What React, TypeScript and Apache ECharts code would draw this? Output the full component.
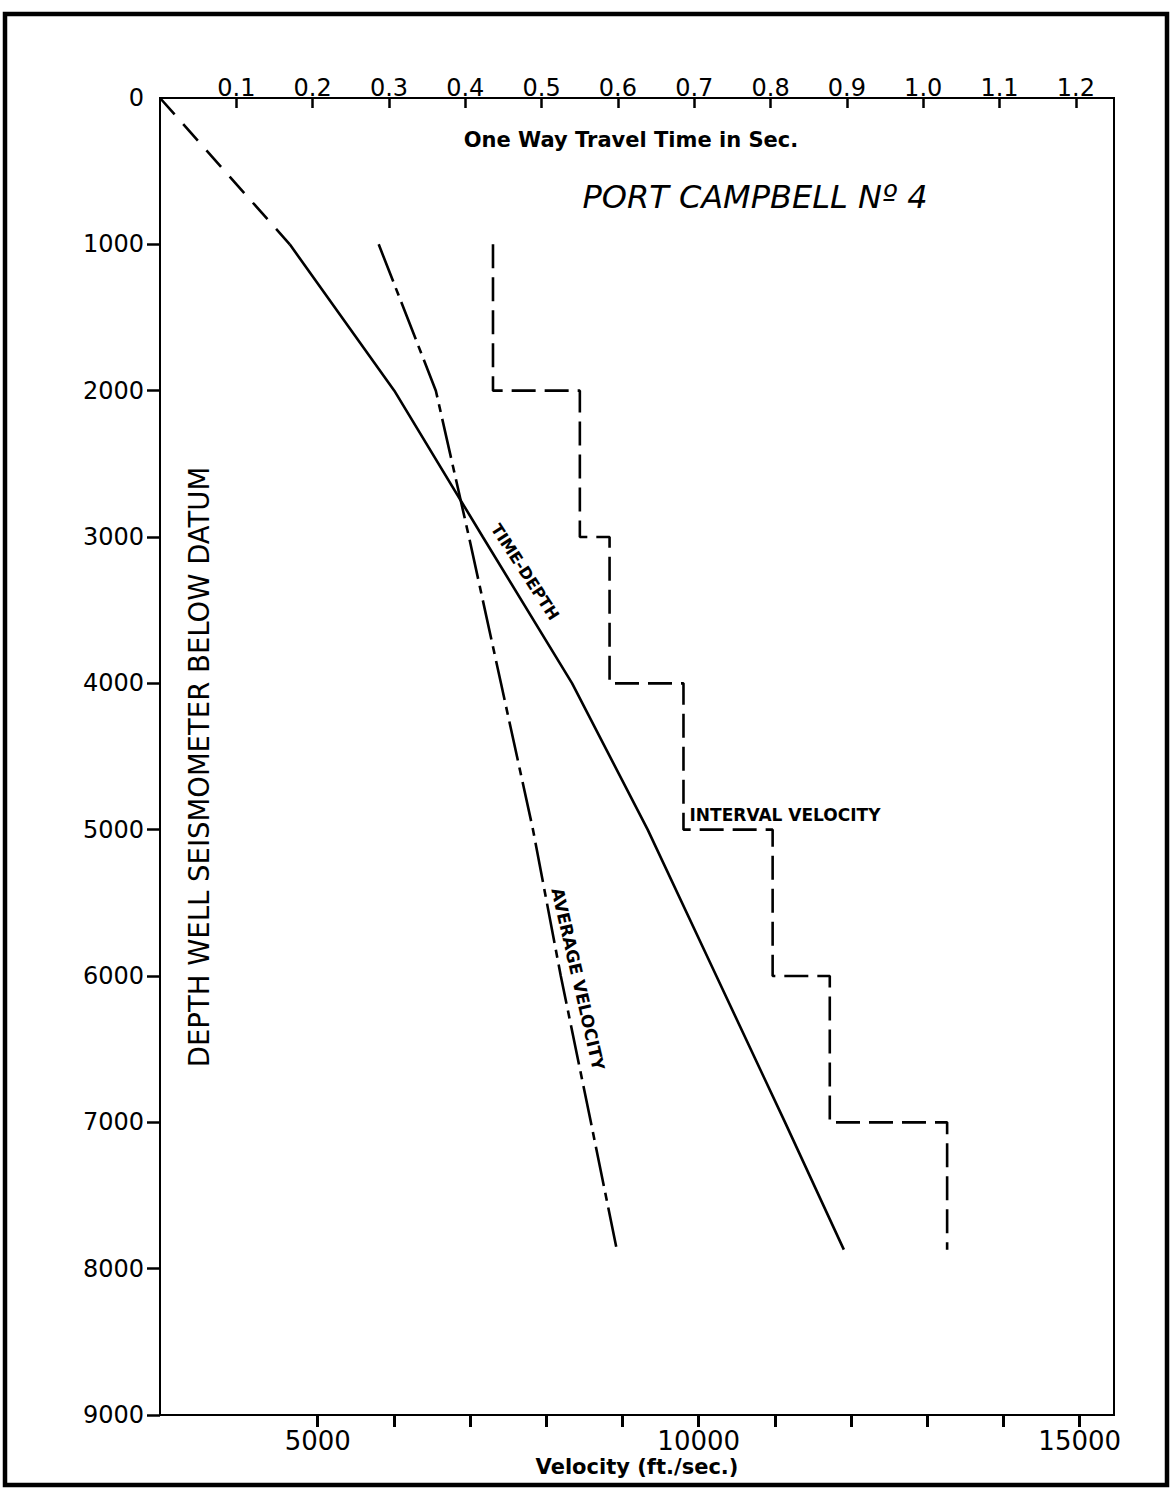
import React, { useEffect, useRef } from "react";
import * as echarts from "echarts";

// Axis ticks / labels
const depthTickValues = [1000, 2000, 3000, 4000, 5000, 6000, 7000, 8000, 9000];
const velocityTickValues = [5000, 6000, 7000, 8000, 9000, 10000, 11000, 12000, 13000, 14000, 15000];
const velocityLabelValues = [5000, 10000, 15000];
const timeTickValues = [0.1, 0.2, 0.3, 0.4, 0.5, 0.6, 0.7, 0.8, 0.9, 1.0, 1.1, 1.2];

// Time-depth curve (one way travel time in sec vs depth in ft)
const timeDepthDepths = [0, 1000, 2000, 3000, 4000, 5000, 6000, 7000, 7870];
const timeDepthTimes = [0, 0.17, 0.307, 0.423, 0.54, 0.639, 0.729, 0.819, 0.896];

// Average velocity (ft/sec) vs depth
const avgDepths = [1000, 2000, 3000, 4000, 5000, 6000, 7000, 7870];
const avgVelocities = [5800, 6550, 6985, 7405, 7825, 8190, 8585, 8925];

// Interval velocity (ft/sec) per depth interval
const intervalTops = [1000, 2000, 3000, 4000, 5000, 6000, 7000];
const intervalBottoms = [2000, 3000, 4000, 5000, 6000, 7000, 7870];
const intervalVelocities = [7300, 8440, 8830, 9800, 10970, 11720, 13260];

const FONT = "'DejaVu Sans', sans-serif";

export default function App() {
  const ref = useRef<HTMLDivElement>(null);

  useEffect(() => {
    document.body.style.margin = "0";
    if (!ref.current) return;
    const chart = echarts.init(ref.current, null, { renderer: "svg" });

    const tdDashed = [0, 1].map((i) => [timeDepthTimes[i], timeDepthDepths[i]]);
    const tdSolid = timeDepthTimes.slice(1).map((t, i) => [t, timeDepthDepths[i + 1]]);
    const avgData = avgVelocities.map((v, i) => [v, avgDepths[i]]);
    const intervalData: number[][] = [];
    intervalVelocities.forEach((v, i) => {
      intervalData.push([v, intervalTops[i]]);
      intervalData.push([v, intervalBottoms[i]]);
    });

    const black = "#000";
    const lineBase = { color: black, width: 2.6 };

    chart.setOption({
      animation: false,
      backgroundColor: "#fff",
      grid: {
        left: 160,
        top: 98,
        width: 954,
        height: 1317,
        show: true,
        borderColor: black,
        borderWidth: 2,
      },
      xAxis: [
        {
          type: "value",
          position: "bottom",
          min: 2930,
          max: 15450,
          splitLine: { show: false },
          axisLine: { show: true, onZero: false, lineStyle: { color: black, width: 2 } },
          axisTick: {
            show: true,
            customValues: velocityTickValues,
            length: 12,
            inside: false,
            lineStyle: { color: black, width: 3 },
          },
          axisLabel: {
            customValues: velocityLabelValues,
            fontSize: 26,
            fontFamily: FONT,
            color: black,
            margin: 13,
            formatter: (v: number) => String(v),
          },
        },
        {
          type: "value",
          position: "top",
          min: 0,
          max: 1.25,
          splitLine: { show: false },
          axisLine: { show: true, onZero: false, lineStyle: { color: black, width: 2 } },
          axisTick: {
            show: true,
            customValues: timeTickValues,
            length: 10,
            inside: true,
            lineStyle: { color: black, width: 2.5 },
          },
          axisLabel: {
            customValues: timeTickValues,
            fontSize: 24,
            fontFamily: FONT,
            color: black,
            margin: -2,
            formatter: (v: number) => v.toFixed(1),
          },
        },
      ],
      yAxis: {
        type: "value",
        inverse: true,
        min: 0,
        max: 9000,
        interval: 1000,
        splitLine: { show: false },
        axisLine: { show: true, onZero: false, lineStyle: { color: black, width: 2 } },
        axisTick: {
          show: true,
          customValues: depthTickValues,
          length: 13,
          inside: false,
          lineStyle: { color: black, width: 2.5 },
        },
        axisLabel: {
          fontSize: 24,
          fontFamily: FONT,
          color: black,
          margin: 16,
          formatter: (v: number) => String(v),
        },
      },
      series: [
        {
          type: "line",
          xAxisIndex: 1,
          data: tdDashed,
          symbol: "none",
          silent: true,
          lineStyle: { ...lineBase, type: [22, 13] },
        },
        {
          type: "line",
          xAxisIndex: 1,
          data: tdSolid,
          symbol: "none",
          silent: true,
          lineStyle: { ...lineBase, type: "solid" },
        },
        {
          type: "line",
          xAxisIndex: 0,
          data: avgData,
          symbol: "none",
          silent: true,
          lineStyle: { ...lineBase, type: [40, 7, 8, 7] },
        },
        {
          type: "line",
          xAxisIndex: 0,
          data: intervalData,
          symbol: "none",
          silent: true,
          lineStyle: { ...lineBase, type: [24, 9] },
        },
      ],
      graphic: [
        {
          type: "rect",
          shape: { x: 5, y: 14, width: 1162, height: 1471 },
          style: { fill: "none", stroke: black, lineWidth: 4.5 },
          silent: true,
        },
        {
          type: "text",
          x: 631,
          y: 140,
          style: {
            text: "One Way Travel Time in Sec.",
            fontSize: 21,
            fontWeight: "bold",
            fontFamily: FONT,
            fill: black,
            align: "center",
            verticalAlign: "middle",
          },
        },
        {
          type: "text",
          x: 755,
          y: 197,
          style: {
            text: "PORT CAMPBELL Nº 4",
            fontSize: 32,
            fontStyle: "italic",
            fontFamily: FONT,
            fill: black,
            align: "center",
            verticalAlign: "middle",
          },
        },
        {
          type: "text",
          x: 199,
          y: 767,
          rotation: Math.PI / 2,
          style: {
            text: "DEPTH WELL SEISMOMETER BELOW DATUM",
            fontSize: 27.5,
            fontFamily: FONT,
            fill: black,
            align: "center",
            verticalAlign: "middle",
          },
        },
        {
          type: "text",
          x: 637,
          y: 1467,
          style: {
            text: "Velocity (ft./sec.)",
            fontSize: 21,
            fontWeight: "bold",
            fontFamily: FONT,
            fill: black,
            align: "center",
            verticalAlign: "middle",
          },
        },
        {
          type: "text",
          x: 525,
          y: 572,
          rotation: (-57 * Math.PI) / 180,
          style: {
            text: "TIME-DEPTH",
            fontSize: 16,
            fontWeight: "bold",
            fontFamily: FONT,
            fill: black,
            align: "center",
            verticalAlign: "middle",
          },
        },
        {
          type: "text",
          x: 785,
          y: 815,
          style: {
            text: "INTERVAL VELOCITY",
            fontSize: 17,
            fontWeight: "bold",
            fontFamily: FONT,
            fill: black,
            align: "center",
            verticalAlign: "middle",
          },
        },
        {
          type: "text",
          x: 578,
          y: 979,
          rotation: (-77 * Math.PI) / 180,
          style: {
            text: "AVERAGE VELOCITY",
            fontSize: 17,
            fontWeight: "bold",
            fontFamily: FONT,
            fill: black,
            align: "center",
            verticalAlign: "middle",
          },
        },
      ],
    });

    return () => chart.dispose();
  }, []);

  return <div ref={ref} style={{ width: 1175, height: 1488 }} />;
}
